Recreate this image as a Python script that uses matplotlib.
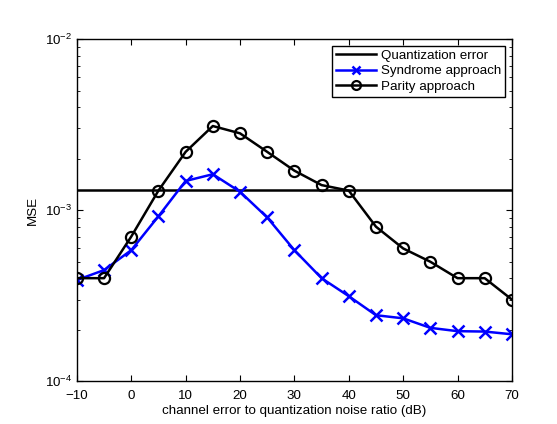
import numpy as np
import matplotlib
matplotlib.use("Agg")
import matplotlib.pyplot as plt
from matplotlib.ticker import LogLocator, NullFormatter

# =========================
# Data
# =========================
ratio_db = [-10, -5, 0, 5, 10, 15, 20, 25, 30, 35, 40, 45, 50, 55, 60, 65, 70]
quantization_mse = 1.31e-3
syndrome_mse = [3.9e-4, 4.46e-4, 5.83e-4, 9.2e-4, 1.48e-3, 1.62e-3, 1.28e-3, 9.06e-4,
                5.83e-4, 4.0e-4, 3.14e-4, 2.43e-4, 2.33e-4, 2.05e-4, 1.96e-4, 1.95e-4, 1.88e-4]
parity_mse = [4.0e-4, 4.0e-4, 7.0e-4, 1.30e-3, 2.19e-3, 3.1e-3, 2.81e-3, 2.19e-3,
              1.70e-3, 1.40e-3, 1.30e-3, 8.0e-4, 5.97e-4, 4.99e-4, 4.0e-4, 4.0e-4, 3.0e-4]
x_ticks = [-10, 0, 10, 20, 30, 40, 50, 60, 70]

plt.rcParams["font.family"] = ["Liberation Sans", "DejaVu Sans"]
plt.rcParams["mathtext.fontset"] = "custom"
plt.rcParams["mathtext.rm"] = "Liberation Sans"
plt.rcParams["mathtext.it"] = "Liberation Sans:italic"

fs = 9.6

fig = plt.figure(figsize=(5.57, 4.24), dpi=100)
ax = fig.add_axes([0.138, 0.101, 0.781, 0.807])

ax.plot([ratio_db[0], ratio_db[-1]], [quantization_mse, quantization_mse],
        color="black", lw=1.8, label="Quantization error")
ax.plot(ratio_db, syndrome_mse, color="blue", lw=1.8, marker="x", ms=8, mew=1.8,
        label="Syndrome approach")
ax.plot(ratio_db, parity_mse, color="black", lw=1.8, marker="o", ms=8, mew=1.6,
        mfc="none", label="Parity approach")

ax.set_yscale("log")
ax.set_xlim(-10, 70)
ax.set_ylim(1e-4, 1e-2)
ax.set_xticks(x_ticks)
ax.yaxis.set_major_locator(LogLocator(base=10, numticks=5))
ax.yaxis.set_minor_locator(LogLocator(base=10, subs=np.arange(2, 10), numticks=20))
ax.yaxis.set_minor_formatter(NullFormatter())

ax.tick_params(which="both", direction="in", top=True, right=True, labelsize=fs)
ax.tick_params(which="major", length=4)
ax.tick_params(which="minor", length=2)
ax.tick_params(axis="x", pad=6)
for sp in ax.spines.values():
    sp.set_linewidth(1)

ax.set_xlabel("channel error to quantization noise ratio (dB)", fontsize=fs, labelpad=2.5)
ax.set_ylabel("MSE", fontsize=fs)

leg = ax.legend(loc="upper right", fontsize=fs, fancybox=False, framealpha=1,
                edgecolor="black", borderaxespad=0.5, handlelength=3.0,
                labelspacing=0.22, borderpad=0.3, handletextpad=0.4, markerscale=0.8)
leg.get_frame().set_linewidth(1)

fig.savefig("out.png", dpi=100)
